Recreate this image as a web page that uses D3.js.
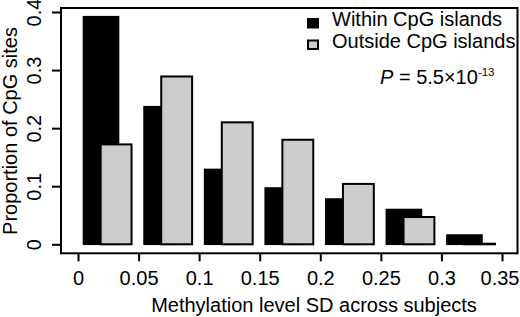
<!DOCTYPE html>
<html>
<head>
<meta charset="utf-8">
<script src="https://cdn.jsdelivr.net/npm/d3@7"></script>
<style>
  body { margin: 0; background: #fff; }
  svg { display: block; font-family: "Liberation Sans", Arial, sans-serif; }
</style>
</head>
<body>
<svg id="chart"></svg>
<script>
const width = 520;
const height = 317;

// Data
const binStarts = [0, 0.05, 0.1, 0.15, 0.2, 0.25, 0.3];
const withinCpG = [0.392, 0.237, 0.129, 0.097, 0.078, 0.060, 0.016];
const outsideCpG = [0.172, 0.289, 0.210, 0.180, 0.104, 0.047, 0.001];
const xTicks = [0, 0.05, 0.1, 0.15, 0.2, 0.25, 0.3, 0.35];
const yTicks = [0, 0.1, 0.2, 0.3, 0.4];
const seriesNames = ["Within CpG islands", "Outside CpG islands"];

const fontSize = 20;
const grayFill = "#cccccc";

const svg = d3.select("#chart")
  .attr("width", width)
  .attr("height", height);

// plot frame
const frame = { left: 61, right: 517.5, top: 8, bottom: 253.3 };

const x = d3.scaleLinear().domain([0, 0.35]).range([78, 502]);
const y = d3.scaleLinear().domain([0, 0.4]).range([244.3, 12]);

// bar offsets inside each bin (data units)
const blackOff = [0.0045, 0.0335];
const grayOff = [0.0187, 0.0442];

const bins = binStarts.map((b, i) => ({ b, w: withinCpG[i], o: outsideCpG[i] }));

// black bars first, gray drawn over them
svg.append("g").selectAll("rect")
  .data(bins)
  .join("rect")
  .attr("x", d => x(d.b + blackOff[0]))
  .attr("width", d => x(d.b + blackOff[1]) - x(d.b + blackOff[0]))
  .attr("y", d => y(d.w))
  .attr("height", d => y(0) - y(d.w))
  .attr("fill", "#000")
  .attr("stroke", "#000")
  .attr("stroke-width", 1.5);

svg.append("g").selectAll("rect")
  .data(bins)
  .join("rect")
  .attr("x", d => x(d.b + grayOff[0]))
  .attr("width", d => x(d.b + grayOff[1]) - x(d.b + grayOff[0]))
  .attr("y", d => y(d.o))
  .attr("height", d => y(0) - y(d.o))
  .attr("fill", grayFill)
  .attr("stroke", "#000")
  .attr("stroke-width", 2);

// box
svg.append("rect")
  .attr("x", frame.left)
  .attr("y", frame.top)
  .attr("width", frame.right - frame.left)
  .attr("height", frame.bottom - frame.top)
  .attr("fill", "none")
  .attr("stroke", "#000")
  .attr("stroke-width", 2);

// x axis
const xAxis = svg.append("g")
  .attr("transform", `translate(0,${frame.bottom})`)
  .call(d3.axisBottom(x).tickValues(xTicks).tickSize(8).tickFormat(d3.format("")));
xAxis.select(".domain").remove();
xAxis.selectAll("line").attr("stroke-width", 2);
xAxis.selectAll("text")
  .attr("y", 31.7)
  .attr("dy", 0)
  .attr("font-size", fontSize)
  .attr("font-family", null)
  .attr("fill", "#000");
// last label is pulled in so it stays inside the picture
xAxis.selectAll(".tick:last-of-type text")
  .attr("text-anchor", "end")
  .attr("x", 17);

// y axis
const yAxis = svg.append("g")
  .attr("transform", `translate(${frame.left},0)`)
  .call(d3.axisLeft(y).tickValues(yTicks).tickSize(9).tickFormat(d3.format("")));
yAxis.select(".domain").remove();
yAxis.selectAll("line").attr("stroke-width", 2);
yAxis.selectAll("text")
  .attr("transform", "rotate(-90)")
  .attr("x", 0)
  .attr("y", -20.5)
  .attr("dy", 0)
  .attr("text-anchor", "middle")
  .attr("font-size", fontSize)
  .attr("font-family", null)
  .attr("fill", "#000");

// axis titles
svg.append("text")
  .attr("x", 314)
  .attr("y", 312)
  .attr("text-anchor", "middle")
  .attr("font-size", fontSize)
  .text("Methylation level SD across subjects");

svg.append("text")
  .attr("transform", "translate(16.5,131) rotate(-90)")
  .attr("text-anchor", "middle")
  .attr("font-size", fontSize)
  .text("Proportion of CpG sites");

// legend
const legend = svg.append("g").attr("transform", "translate(307,18)");
const legendItems = legend.selectAll("g")
  .data(seriesNames)
  .join("g")
  .attr("transform", (d, i) => `translate(0,${i * 21.5})`);
legendItems.append("rect")
  .attr("x", 1)
  .attr("y", 1)
  .attr("width", 10)
  .attr("height", 8.5)
  .attr("fill", (d, i) => i === 0 ? "#000" : grayFill)
  .attr("stroke", "#000")
  .attr("stroke-width", 2);
legendItems.append("text")
  .attr("x", 25)
  .attr("y", 8)
  .attr("font-size", fontSize)
  .text(d => d);

// p-value annotation
const pText = svg.append("text")
  .attr("x", 380)
  .attr("y", 84.3)
  .attr("font-size", fontSize);
pText.append("tspan").attr("font-style", "italic").text("P");
pText.append("tspan").text(" = 5.5×10");
pText.append("tspan").attr("font-size", 11.5).attr("dy", -8).text("-13");
</script>
</body>
</html>
